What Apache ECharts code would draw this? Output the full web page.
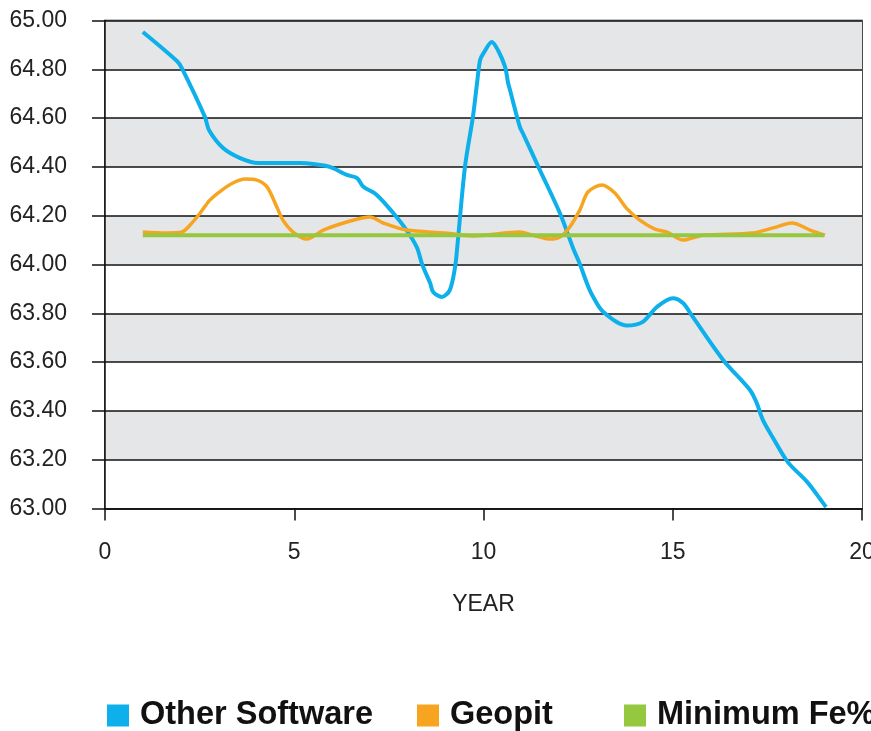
<!DOCTYPE html>
<html>
<head>
<meta charset="utf-8">
<script src="https://cdn.jsdelivr.net/npm/echarts@6/dist/echarts.min.js"></script>
<style>html,body{margin:0;padding:0;background:#fff}#c{width:871px;height:731px}</style>
</head>
<body>
<div id="c"></div>
<script>
const seriesNames = ['Other Software', 'Geopit', 'Minimum Fe%'];
const xTicks = [0, 5, 10, 15, 20];
const yTicks = [63.0, 63.2, 63.4, 63.6, 63.8, 64.0, 64.2, 64.4, 64.6, 64.8, 65.0];

const otherX = [1.0,1.9,2.03,2.64,2.75,3.12,3.57,4.04,4.62,5.15,5.5,5.94,6.39,6.66,6.82,7.18,7.62,7.97,8.24,8.38,8.59,8.67,8.9,9.11,9.25,9.3,9.51,9.72,9.83,9.91,10.0,10.22,10.38,10.57,10.65,10.7,10.96,11.04,11.49,12.02,12.36,12.55,12.73,12.87,13.16,13.78,14.21,14.58,15.0,15.27,15.53,16.33,17.04,17.22,17.38,17.65,18.04,18.55,18.97,19.05];
const otherY = [64.953,64.834,64.805,64.605,64.55,64.477,64.436,64.416,64.416,64.416,64.412,64.40,64.367,64.354,64.32,64.285,64.21,64.14,64.07,64.00,63.924,63.887,63.867,63.895,63.99,64.06,64.40,64.605,64.744,64.838,64.866,64.912,64.879,64.81,64.744,64.715,64.564,64.538,64.387,64.21,64.07,64.0,63.924,63.875,63.806,63.75,63.765,63.826,63.862,63.842,63.785,63.609,63.486,63.432,63.363,63.289,63.19,63.109,63.023,63.006];

const geoX = [1.0,1.64,2.03,2.25,2.51,2.77,3.09,3.38,3.7,4.01,4.28,4.54,4.7,4.97,5.33,5.77,6.39,7.0,7.35,7.97,9.0,9.72,10.96,11.3,11.76,12.02,12.28,12.55,12.76,13.13,13.47,13.78,14.13,14.53,14.85,15.27,15.8,17.12,17.65,18.15,18.63,19.02];
const geoY = [64.133,64.129,64.133,64.162,64.21,64.264,64.305,64.334,64.35,64.346,64.318,64.236,64.182,64.133,64.104,64.141,64.174,64.195,64.17,64.141,64.129,64.117,64.133,64.12,64.104,64.113,64.154,64.225,64.297,64.326,64.293,64.23,64.182,64.145,64.133,64.1,64.12,64.129,64.15,64.17,64.141,64.12];

const minX = [1, 19];
const minY = [64.12, 64.12];

const colors = ['#0db0ea', '#f7a520', '#95c83e'];
const FONT = '"Liberation Sans", Arial, Helvetica, sans-serif';

function pairs(xs, ys) { return xs.map((x, i) => [x, ys[i]]); }

const chart = echarts.init(document.getElementById('c'), null, {renderer: 'canvas'});

function legendAt(left, name) {
  return {
    left: left, top: 699, orient: 'horizontal', padding: 0,
    data: [name], icon: 'rect', itemWidth: 22, itemHeight: 22,
    selectedMode: false,
    textStyle: {fontFamily: FONT, fontSize: 32.5, fontWeight: 'bold', color: '#111', padding: [0,0,0,6], lineHeight: 22}
  };
}

chart.setOption({
  animation: false,
  backgroundColor: '#fff',
  color: colors,
  grid: {left: 105, right: 9, top: 20.5, bottom: 222.5, show: true, borderColor: '#111', borderWidth: 1.5,
         backgroundColor: 'transparent', containLabel: false, outerBoundsMode: 'none'},
  legend: [legendAt(107, seriesNames[0]), legendAt(417, seriesNames[1]), legendAt(624, seriesNames[2])],
  xAxis: {
    type: 'value', min: xTicks[0], max: xTicks[xTicks.length - 1], interval: 5,
    name: 'YEAR', nameLocation: 'middle', nameGap: 85,
    nameTextStyle: {fontFamily: FONT, fontSize: 23, color: '#222'},
    axisLine: {show: true, lineStyle: {color: '#111', width: 1.5}},
    axisTick: {show: true, length: 12, inside: false, lineStyle: {color: '#111', width: 1.5}},
    axisLabel: {fontFamily: FONT, fontSize: 23, color: '#222', margin: 33},
    splitLine: {show: false}
  },
  yAxis: {
    type: 'value', min: yTicks[0], max: yTicks[yTicks.length - 1], interval: 0.2,
    axisLine: {show: true, lineStyle: {color: '#111', width: 1.5}},
    axisTick: {show: true, length: 13, inside: false, lineStyle: {color: '#111', width: 1.5}},
    axisLabel: {fontFamily: FONT, fontSize: 23, color: '#222', margin: 38, formatter: v => v.toFixed(2)},
    splitLine: {show: true, lineStyle: {color: '#111', width: 1.5}},
    splitArea: {show: true, areaStyle: {color: ['#ffffff', '#e5e6e8']}}
  },
  series: [
    {name: seriesNames[0], type: 'line', data: pairs(otherX, otherY), smooth: 0.3, showSymbol: false, symbol: 'none',
     lineStyle: {color: colors[0], width: 4}, itemStyle: {color: colors[0]}, z: 3},
    {name: seriesNames[1], type: 'line', data: pairs(geoX, geoY), smooth: 0.3, showSymbol: false, symbol: 'none',
     lineStyle: {color: colors[1], width: 3.5}, itemStyle: {color: colors[1]}, z: 4},
    {name: seriesNames[2], type: 'line', data: pairs(minX, minY), showSymbol: false, symbol: 'none',
     lineStyle: {color: colors[2], width: 4}, itemStyle: {color: colors[2]}, z: 5}
  ]
});
</script>
</body>
</html>
